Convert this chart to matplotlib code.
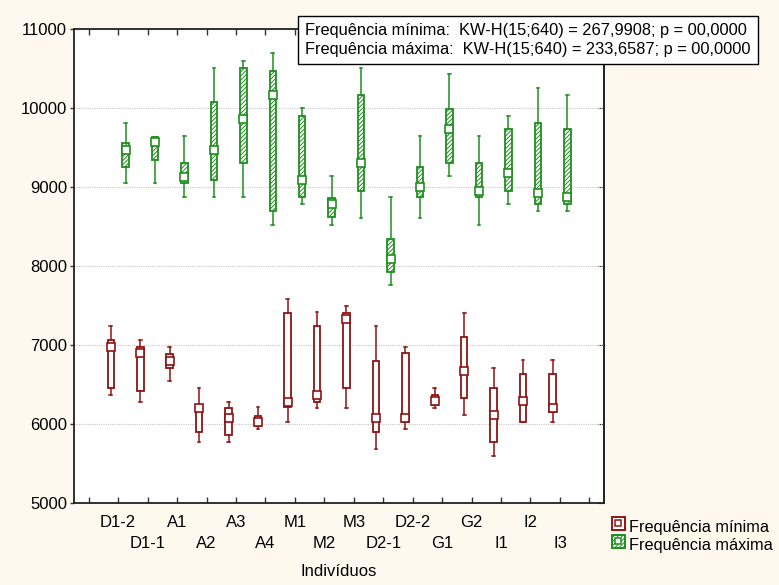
import matplotlib
matplotlib.use("Agg")
import matplotlib.pyplot as plt
from matplotlib.patches import Patch
from matplotlib.legend_handler import HandlerBase
from matplotlib.patches import Rectangle

plt.rcParams['font.family'] = ['Liberation Sans', 'DejaVu Sans']
plt.rcParams['hatch.linewidth'] = 0.7

categories = ["D1-2", "D1-1", "A1", "A2", "A3", "A4", "M1", "M2", "M3",
              "D2-1", "D2-2", "G1", "G2", "I1", "I2", "I3"]

# Frequência mínima
min_whislo = [6366, 6277, 6539, 5770, 5770, 5939, 6019, 6201, 6201, 5677, 5939, 6201, 6108, 5594, 6019, 6019]
min_q1     = [6455, 6412, 6708, 5892, 5854, 5977, 6209, 6277, 6455, 5892, 6019, 6235, 6328, 5767, 6019, 6150]
min_med    = [6970, 6890, 6801, 6197, 6070, 6027, 6281, 6370, 7321, 6070, 6070, 6285, 6670, 6112, 6290, 6201]
min_q3     = [7055, 6966, 6886, 6243, 6201, 6104, 7402, 7233, 7402, 6801, 6894, 6370, 7101, 6450, 6632, 6632]
min_whishi = [7233, 7063, 6970, 6455, 6281, 6209, 7579, 7410, 7495, 7233, 6970, 6455, 7406, 6712, 6805, 6805]

# Frequência máxima
max_whislo = [9045, 9045, 8867, 8867, 8867, 8520, 8782, 8520, 8609, 7753, 8609, 9134, 8520, 8782, 8694, 8694]
max_q1     = [9256, 9341, 9045, 9083, 9299, 8694, 8867, 8613, 8952, 7923, 8867, 9299, 8876, 8952, 8782, 8782]
max_med    = [9472, 9565, 9129, 9472, 9866, 10166, 9091, 8787, 9303, 8093, 8994, 9735, 8952, 9176, 8918, 8876]
max_q3     = [9561, 9637, 9299, 10073, 10505, 10467, 9904, 8863, 10162, 8342, 9256, 9992, 9299, 9730, 9811, 9730]
max_whishi = [9815, 9637, 9642, 10509, 10598, 10691, 9997, 9134, 10509, 8867, 9642, 10424, 9642, 9904, 10251, 10166]

stat_text = ["Frequência mínima:  KW-H(15;640) = 267,9908; p = 00,0000",
             "Frequência máxima:  KW-H(15;640) = 233,6587; p = 00,0000"]
series_names = ["Frequência mínima", "Frequência máxima"]

RED = "#8f1414"
GREEN = "#1f8f1f"
BG = "#fef9ee"

fig = plt.figure(figsize=(7.79, 5.85), dpi=100, facecolor=BG)
ax = fig.add_axes([0.095, 0.1407, 0.6805, 0.8097])
ax.set_facecolor("white")

def stats(lo, q1, med, q3, hi):
    return [dict(whislo=a, q1=b, med=c, q3=d, whishi=e, fliers=[])
            for a, b, c, d, e in zip(lo, q1, med, q3, hi)]

pos = list(range(len(categories)))
off = 0.25
pos_min = [p - off for p in pos]
pos_max = [p + off for p in pos]

ax.bxp(stats(min_whislo, min_q1, min_med, min_q3, min_whishi), positions=pos_min,
       widths=0.22, capwidths=0.09, patch_artist=True, manage_ticks=False,
       boxprops=dict(facecolor="white", edgecolor=RED, linewidth=1.3),
       whiskerprops=dict(color=RED, linewidth=1.1),
       capprops=dict(color=RED, linewidth=1.1),
       medianprops=dict(visible=False), zorder=3)
ax.bxp(stats(max_whislo, max_q1, max_med, max_q3, max_whishi), positions=pos_max,
       widths=0.22, capwidths=0.09, patch_artist=True, manage_ticks=False,
       boxprops=dict(facecolor="white", edgecolor=GREEN, linewidth=1.3, hatch="////////"),
       whiskerprops=dict(color=GREEN, linewidth=1.1),
       capprops=dict(color=GREEN, linewidth=1.1),
       medianprops=dict(visible=False), zorder=3)

ax.plot(pos_min, min_med, linestyle="none", marker="s", ms=6, mfc="white", mec=RED, mew=1.2, zorder=4)
ax.plot(pos_max, max_med, linestyle="none", marker="s", ms=6, mfc="white", mec=GREEN, mew=1.2, zorder=4)

ax.set_xlim(-1.5, 16.5)
ax.set_ylim(5000, 11000)
ax.set_yticks(range(5000, 11001, 1000))
ax.yaxis.grid(True, linestyle=(0, (1, 1)), color="#c8c8c8", linewidth=0.8)
ax.set_axisbelow(True)

ax.set_xticks(range(-1, 17))
ax.set_xticklabels([""] * 18)
for i, c in enumerate(categories):
    ax.text(i, -0.025 if i % 2 == 0 else -0.07, c, transform=ax.get_xaxis_transform(),
            ha="center", va="top", fontsize=12)
ax.tick_params(axis="x", direction="in", length=4, top=True, width=1, color="#333333")
ax.tick_params(axis="y", direction="out", length=3, labelsize=12, width=1, color="#333333", pad=2)
ax2 = ax.secondary_yaxis("right")
ax2.set_yticks(range(5000, 11001, 1000))
ax2.tick_params(direction="in", length=4, labelright=False, color="#333333")
ax2.spines["right"].set_linewidth(1.3)
ax2.spines["right"].set_color("#333333")
for s in ax.spines.values():
    s.set_linewidth(1.3)
    s.set_color("#222222")

ax.set_xlabel("Indivíduos", fontsize=12, labelpad=41)

fig.text(0.3915, 0.96, stat_text[0] + "\n" + stat_text[1], fontsize=11.75,
         ha="left", va="top", linespacing=1.3,
         bbox=dict(boxstyle="square,pad=0.45", facecolor="white", edgecolor="black", linewidth=1.0))

class BoxHandler(HandlerBase):
    def __init__(self, color, hatch):
        super().__init__()
        self.color = color
        self.hatch = hatch
    def create_artists(self, legend, orig_handle, xd, yd, w, h, fontsize, trans):
        s = min(w, h) * 1.0
        x0 = xd + (w - s) / 2
        y0 = yd + (h - s) / 2
        outer = Rectangle((x0, y0), s, s, facecolor="white", edgecolor=self.color,
                          hatch=self.hatch, linewidth=1.4, transform=trans)
        si = s * 0.45
        inner = Rectangle((x0 + (s - si) / 2, y0 + (s - si) / 2), si, si, facecolor="white",
                          edgecolor=self.color, linewidth=1.1, transform=trans)
        return [outer, inner]

h1 = Patch(label=series_names[0])
h2 = Patch(label=series_names[1])
fig.legend([h1, h2], series_names, loc="upper left", bbox_to_anchor=(0.7705, 0.132),
           frameon=False, fontsize=11.7, handlelength=0.8, handleheight=0.95,
           handletextpad=0.3, labelspacing=0.14, borderpad=0.2,
           handler_map={h1: BoxHandler(RED, None), h2: BoxHandler(GREEN, "////////")})

fig.savefig("out.png", dpi=100, facecolor=BG)
